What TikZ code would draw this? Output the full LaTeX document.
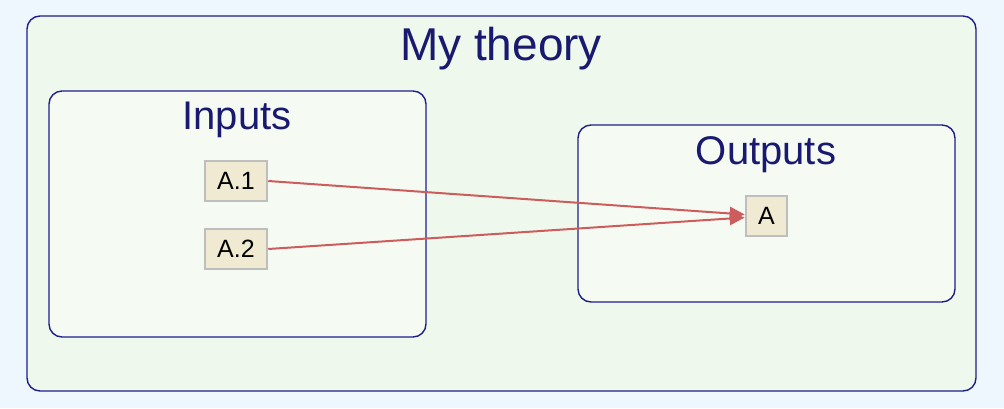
\documentclass[tikz,border=0pt]{standalone}
\usepackage{fontspec}
\setmainfont{Liberation Sans}
\usepackage{xcolor}
\usetikzlibrary{arrows.meta}
\definecolor{pagebg}{HTML}{EEF6FE}
\definecolor{theorybg}{HTML}{EFF8EC}
\definecolor{groupbg}{HTML}{F5FBF3}
\definecolor{navy}{HTML}{1E1E8C}
\definecolor{titlenavy}{HTML}{191970}
\definecolor{varfill}{HTML}{F0EAD2}
\definecolor{vargray}{HTML}{BEBEBE}
\definecolor{linkred}{HTML}{CD5C5C}

\begin{document}
\begin{tikzpicture}[x=1pt, y=-1pt]
\tikzset{GroupStyle/.style={draw=navy, line width=1.4pt, rounded corners=13pt},
  TitleStyle/.style={anchor=base, text=titlenavy, inner sep=0pt},
  VarStyle/.style={draw=vargray, line width=2.5pt, fill=varfill, font=\fontsize{25}{25}\selectfont,
    minimum height=40pt, inner sep=0pt},
  LinkStyle/.style={draw=linkred, line width=2pt, -{Triangle[length=15pt,width=13pt]}}}
\fill[pagebg] (0,0) rectangle (1004,408);
\useasboundingbox (0,0) rectangle (1004,408);
% containers
\draw[GroupStyle, fill=theorybg] (27,16) rectangle (976,391);
\draw[GroupStyle, fill=groupbg] (49,91) rectangle (426,337);
\draw[GroupStyle, fill=groupbg] (578,125) rectangle (955,302);
\node[TitleStyle, font=\fontsize{46}{46}\selectfont] (theory) at (501,60) {My theory};
\node[TitleStyle, font=\fontsize{40}{40}\selectfont] (inputs) at (237,129) {Inputs};
\node[TitleStyle, font=\fontsize{40}{40}\selectfont] (outputs) at (766,164) {Outputs};
% variables
\node[VarStyle, minimum width=62pt] (a1) at (236,181) {A.1};
\node[VarStyle, minimum width=62pt] (a2) at (236,249) {A.2};
\node[VarStyle, minimum width=41pt] (A) at (766.5,216) {A};
\draw[LinkStyle] (a1.east) -- ([yshift=1.5pt]A.west);
\draw[LinkStyle] (a2.east) -- ([yshift=-1.5pt]A.west);
\end{tikzpicture}
\end{document}
